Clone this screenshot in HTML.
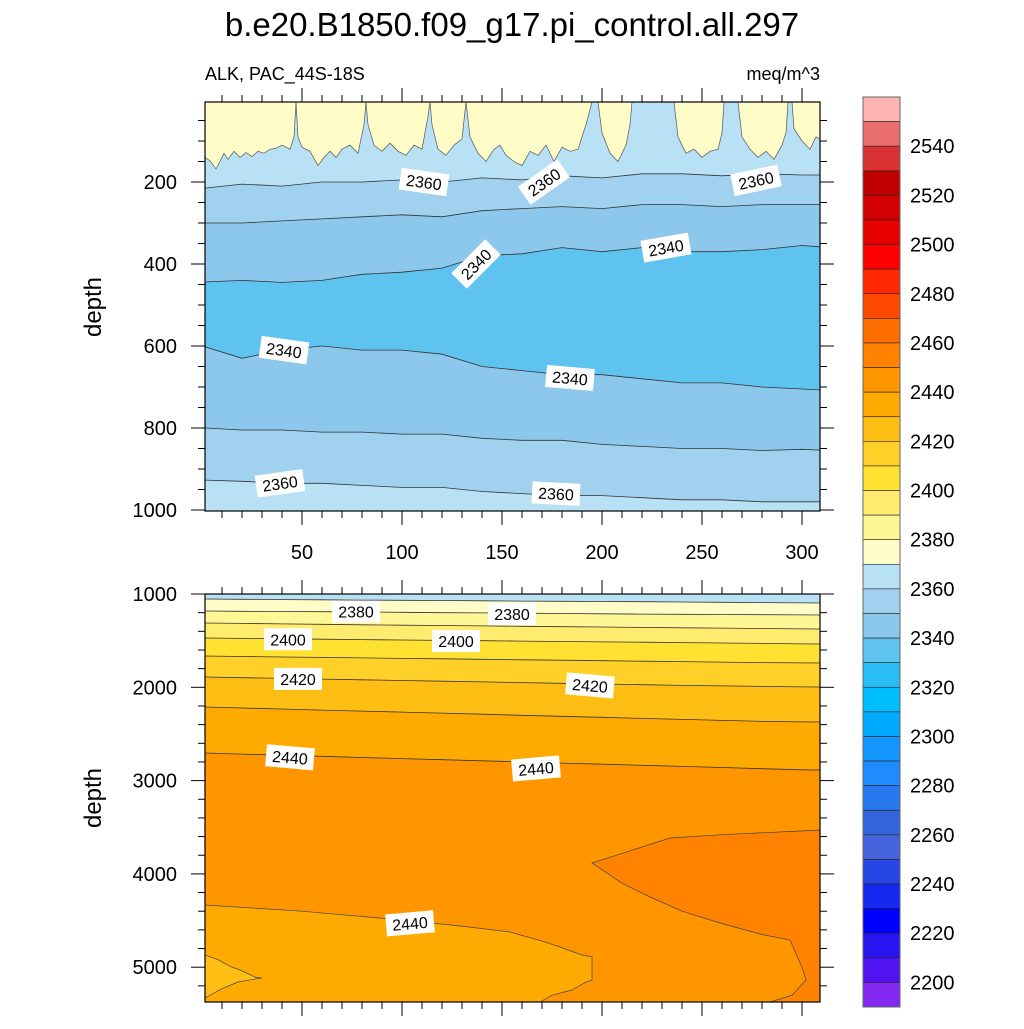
<!DOCTYPE html>
<html><head><meta charset="utf-8"><style>
body{margin:0;background:#fff}
svg text{font-family:"Liberation Sans",sans-serif}
</style></head><body>
<svg id="chart" width="1024" height="1024" viewBox="0 0 1024 1024" xmlns="http://www.w3.org/2000/svg">
<text x="512" y="36" font-size="33" text-anchor="middle">b.e20.B1850.f09_g17.pi_control.all.297</text>
<text x="205" y="80" font-size="18">ALK, PAC_44S-18S</text>
<text x="820" y="80" font-size="18" text-anchor="end">meq/m^3</text>
<text transform="translate(101,307) rotate(-90)" font-size="24" text-anchor="middle">depth</text>
<text transform="translate(101,798) rotate(-90)" font-size="24" text-anchor="middle">depth</text>
<g id="top"></g>
<g id="bot"></g>
<g id="cbar"></g>
</svg>
<script>
const years=[1.5,20,40,60,80,100,120,140,160,180,200,220,240,260,280,300,309];
// upper panel contour depths (m)
const t2360a=[215,205,210,200,200,195,200,190,195,185,190,180,180,185,180,183,183];
const t2350a=[300,300,295,290,285,280,285,270,265,260,265,255,255,260,255,255,255];
const t2340a=[444,440,445,440,425,420,410,380,375,360,370,360,370,370,365,355,358];
const t2340b=[602,630,610,600,610,610,620,650,660,670,670,680,690,690,700,705,707];
const t2350b=[800,805,805,810,810,815,815,825,830,830,840,845,850,850,855,852,854];
const t2360b=[927,930,935,935,940,945,945,955,960,965,965,970,975,975,980,980,980];
const t2370=[[1.5,140],[4,148],[7,168],[9,150],[11,130],[13,145],[16,125],[19,140],[22,128],[25,138],[28,125],[31,130],[34,120],[37,118],[40,110],[44,120],[46,90],[47,5],[48,90],[50,115],[54,125],[58,160],[61,140],[64,125],[67,140],[70,120],[74,110],[78,130],[81,60],[82,5],[83,60],[86,110],[90,125],[94,105],[98,125],[102,135],[106,110],[110,120],[113,40],[114,5],[115,60],[118,120],[122,135],[126,110],[130,95],[132,5],[134,90],[138,130],[142,150],[146,120],[149,110],[152,135],[156,150],[160,160],[164,125],[168,135],[172,110],[176,150],[180,115],[184,125],[188,120],[192,60],[195,5],[198,5],[200,80],[204,130],[208,150],[212,110],[214,60],[215,5],[236,5],[238,90],[242,130],[246,120],[250,140],[254,125],[258,120],[260,80],[261,5],[268,5],[270,90],[274,120],[278,140],[282,125],[286,145],[290,110],[292,80],[293,5],[295,5],[296,70],[300,100],[304,120],[307,90],[309,95]];
// lower panel contour depths (m)
const b2370=[1054,1057,1060,1062,1065,1068,1070,1073,1076,1078,1080,1083,1086,1089,1092,1095,1096];
const b2380=[1182,1185,1188,1190,1193,1196,1200,1203,1206,1209,1212,1215,1218,1220,1222,1224,1225];
const b2390=[1311,1315,1320,1325,1330,1334,1338,1342,1346,1350,1354,1358,1362,1366,1370,1374,1375];
const b2400=[1472,1476,1480,1484,1489,1493,1497,1501,1505,1509,1513,1517,1521,1525,1530,1535,1536];
const b2410=[1665,1670,1675,1680,1685,1690,1695,1700,1705,1710,1715,1720,1725,1730,1735,1739,1740];
const b2420=[1890,1897,1905,1912,1920,1927,1935,1942,1950,1957,1965,1972,1980,1985,1990,1996,1997];
const b2430=[2211,2222,2233,2244,2255,2266,2277,2288,2300,2311,2322,2333,2344,2355,2365,2371,2372];
const b2440=[2704,2716,2728,2740,2752,2764,2776,2788,2800,2812,2824,2836,2848,2860,2872,2884,2886];
const lowRegion=[[1.5,4333],[50,4400],[100,4494],[130,4560],[154,4623],[170,4720],[179,4783],[190,4869],[195,4890],[195,5137],[192,5160],[185,5244],[175,5300],[169,5373],[1.5,5373]];
const smallRegion=[[1.5,4869],[8,4920],[14,4990],[19,5030],[27,5110],[30,5116],[27,5125],[18,5159],[10,5230],[1.5,5330]];
const wedge=[[195,3883],[210,3780],[234,3615],[260,3580],[290,3550],[309,3529],[309,5373],[284,5373],[295,5300],[302,5137],[300,5000],[294,4708],[280,4650],[259,4526],[240,4400],[224,4248],[210,4100]];
const topLabels=[["2360",111,200,8],["2360",171,200,-35],["2360",277,196,-12],["2340",137,400,-45],["2340",232,360,-10],["2340",41,610,8],["2340",184,678,5],["2360",39,935,-8],["2360",177,960,3]];
const botLabels=[["2380",77,1190,0],["2380",155,1215,0],["2400",43,1485,0],["2400",127,1505,0],["2420",48,1910,0],["2420",194,1980,5],["2440",44,2750,5],["2440",167,2870,-5],["2440",104,4530,-5]];
const cbValues=[2540,2520,2500,2480,2460,2440,2420,2400,2380,2360,2340,2320,2300,2280,2260,2240,2220,2200];
const cbColors=["#FFB4B4","#EA6E6E","#D83232","#C00000","#D20000","#E60000","#FF0000","#FF2800","#FF4800","#FF6E00","#FF8200","#FF9600","#FFAA00","#FFBE14","#FFD028","#FFE132","#FFEB6E","#FFF696","#FFFCC8","#B9E1F5","#A0D2F0","#8CC8EB","#5FC3F0","#28BEF5","#00BEFF","#00AAFF","#1496FF","#1E8CFF","#2878F0","#3264DC","#4664DC","#2846E6","#1428F0","#0000FF","#2814F0","#5014F0","#8228F0"];

const NS="http://www.w3.org/2000/svg";
const X0=205,X1=820;
const xS=yr=>202+2*yr;
const yT=d=>100+0.41*d;
const yB=d=>594+(d-1000)*0.0933;
function mk(tag,attrs,parent){const e=document.createElementNS(NS,tag);for(const k in attrs)e.setAttribute(k,attrs[k]);parent.appendChild(e);return e;}
function ptsLine(arr,ys){return years.map((y,i)=>xS(y).toFixed(1)+","+ys(arr[i]).toFixed(1));}
function band(g,upper,lower,ys,color,name){
  const p=ptsLine(upper,ys).concat(ptsLine(lower,ys).reverse());
  const e=mk("polygon",{points:p.join(" "),fill:color},g);
  
  
}
function line(g,arr,ys,name){
  const e=mk("polyline",{points:ptsLine(arr,ys).join(" "),fill:"none",stroke:"#333",'stroke-width':0.8},g);
  
  
}
function poly(g,pairs,ys,color,name){
  const e=mk("polygon",{points:pairs.map(p=>xS(p[0]).toFixed(1)+","+ys(p[1]).toFixed(1)).join(" "),fill:color,stroke:"#444",'stroke-width':0.7},g);
  
  
}
function label(g,l,ys){
  const x=xS(l[1]),y=ys(l[2]);
  const gg=mk("g",{transform:`translate(${x},${y}) rotate(${l[3]})`},g);
  
  
  mk("rect",{x:-24,y:-11,width:48,height:22,fill:"#fff"},gg);
  const t=mk("text",{x:0,y:6,'font-size':16,'text-anchor':'middle'},gg);t.textContent=l[0];
}
function frame(g,yTop,yBot,yTicksMajor,yTicksMinor,ys,labels,name){
  const cp=mk("clipPath",{id:"clip"+name},g);mk("rect",{x:X0,y:yTop,width:X1-X0,height:yBot-yTop},cp);
  const fr=mk("rect",{x:X0,y:yTop,width:X1-X0,height:yBot-yTop,fill:"none",stroke:"#000",'stroke-width':1.2},g);
  
  
  const tk=mk("g",{stroke:"#000",'stroke-width':1},g);
  
  
  for(let yr=10;yr<=300;yr+=10){const x=xS(yr),L=(yr%50==0)?14:7;
    mk("line",{x1:x,x2:x,y1:yTop,y2:yTop-L},tk);mk("line",{x1:x,x2:x,y1:yBot,y2:yBot+L},tk);}
  yTicksMinor.forEach(d=>{const y=ys(d);mk("line",{x1:X0,x2:X0-7,y1:y,y2:y},tk);mk("line",{x1:X1,x2:X1+7,y1:y,y2:y},tk);});
  yTicksMajor.forEach(d=>{const y=ys(d);mk("line",{x1:X0,x2:X0-14,y1:y,y2:y},tk);mk("line",{x1:X1,x2:X1+14,y1:y,y2:y},tk);
    const t=mk("text",{x:177,y:y+7,'font-size':20,'text-anchor':'end'},g);t.textContent=d;
    
    });
  if(labels){[50,100,150,200,250,300].forEach(v=>{const t=mk("text",{x:xS(v),y:559,'font-size':20,'text-anchor':'middle'},g);t.textContent=v;
    
    });}
}
// upper panel
const gt=document.getElementById("top");
const ct=mk("g",{'clip-path':"url(#clipTop)"},gt);
mk("rect",{x:X0,y:102,width:X1-X0,height:409,fill:"#B9E1F5"},ct);
{const pts=[[1.5,0]].concat(t2370,[[309,0]]);const e=mk("polygon",{points:pts.map(p=>xS(p[0])+","+yT(p[1]).toFixed(1)).join(" "),fill:"#FFFCC8",stroke:"#555",'stroke-width':0.7},ct);
 
 }
band(ct,t2360a,t2350a,yT,"#A0D2F0","band-2350-2360-upper");
band(ct,t2350a,t2340a,yT,"#8CC8EB","band-2340-2350-upper");
band(ct,t2340a,t2340b,yT,"#5FC3F0","band-2330-2340");
band(ct,t2340b,t2350b,yT,"#8CC8EB","band-2340-2350-lower");
band(ct,t2350b,t2360b,yT,"#A0D2F0","band-2350-2360-lower");
[t2360a,t2350a,t2340a,t2340b,t2350b,t2360b].forEach((a,i)=>line(ct,a,yT,'contour-line-'+i));
topLabels.forEach(l=>label(ct,l,yT));
const mjT=[200,400,600,800,1000],mnT=[];for(let d=50;d<=1000;d+=50)if(d%200)mnT.push(d);
frame(gt,102,511,mjT,mnT,yT,true,"Top");
// lower panel
const gb=document.getElementById("bot");
const cb=mk("g",{'clip-path':"url(#clipBot)"},gb);
mk("rect",{x:X0,y:594,width:X1-X0,height:408,fill:"#FF9600"},cb);
const b1000=years.map(()=>900);
band(cb,b1000,b2370,yB,"#B9E1F5","band-2360-2370");
band(cb,b2370,b2380,yB,"#FFFCC8","band-2370-2380");
band(cb,b2380,b2390,yB,"#FFF696","band-2380-2390");
band(cb,b2390,b2400,yB,"#FFEB6E","band-2390-2400");
band(cb,b2400,b2410,yB,"#FFE132","band-2400-2410");
band(cb,b2410,b2420,yB,"#FFD028","band-2410-2420");
band(cb,b2420,b2430,yB,"#FFBE14","band-2420-2430");
band(cb,b2430,b2440,yB,"#FFAA00","band-2430-2440");
[b2370,b2380,b2390,b2400,b2410,b2420,b2430,b2440].forEach((a,i)=>line(cb,a,yB,'contour-line-lower-'+i));
poly(cb,lowRegion,yB,"#FFAA00","deep-band-2430-2440");
poly(cb,smallRegion,yB,"#FFBE14","deep-band-2420-2430");
poly(cb,wedge,yB,"#FF8200","deep-band-2450-2460");
botLabels.forEach(l=>label(cb,l,yB));
const mjB=[1000,2000,3000,4000,5000],mnB=[];for(let d=1200;d<=5300;d+=200)if(d%1000)mnB.push(d);
frame(gb,594,1002,mjB,mnB,yB,false,"Bot");
// colorbar
const gc=document.getElementById("cbar");
const CY=97,BH=910/cbColors.length;
cbColors.forEach((c,i)=>{const r=mk("rect",{x:863,y:CY+i*BH,width:37,height:BH,fill:c,stroke:"#222",'stroke-width':0.6},gc);
  
  });
mk("rect",{x:863,y:CY,width:37,height:910,fill:"none",stroke:"#666",'stroke-width':1},gc);
cbValues.forEach(v=>{const y=CY+BH*((2550-v)/10+1);const t=mk("text",{x:910,y:y+7,'font-size':20},gc);t.textContent=v;
  
  });
</script>
</body></html>
